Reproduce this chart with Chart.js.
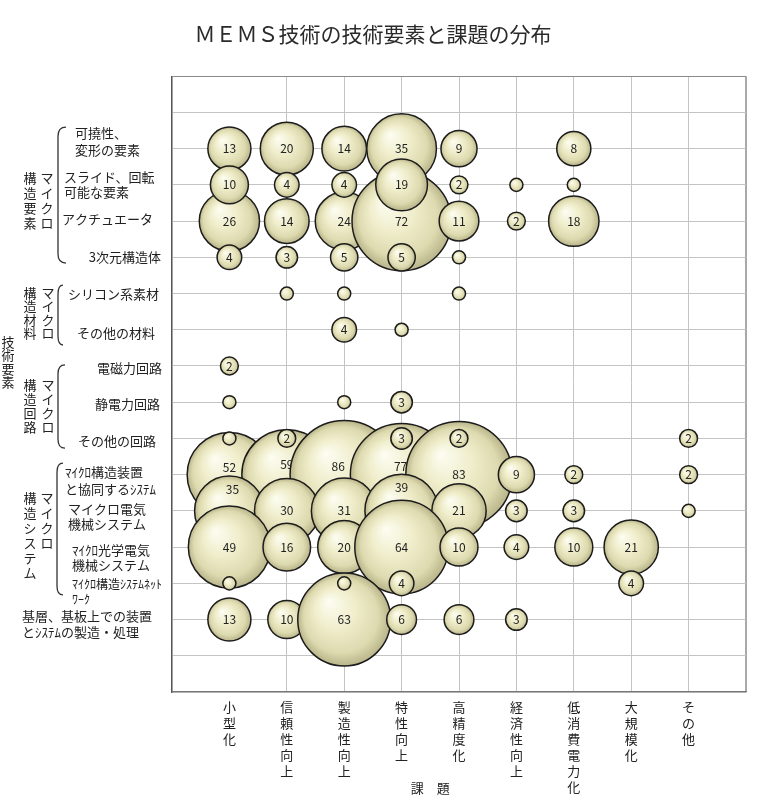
<!DOCTYPE html>
<html>
<head>
<meta charset="utf-8">
<script src="https://cdn.jsdelivr.net/npm/chart.js@4.4.1/dist/chart.umd.min.js"></script>
<style>
  body { margin: 0; background: #fff; }
  #wrap { width: 757px; height: 805px; }
</style>
</head>
<body>
<div id="wrap"><canvas id="bubbleChart"></canvas></div>
<script>
// columns (課題)
const challenges = ['小型化', '信頼性向上', '製造性向上', '特性向上', '高精度化', '経済性向上', '低消費電力化', '大規模化', 'その他'];

// rows (技術要素), '\n' = line break
const techElements = [
    '可撓性、\n変形の要素', 'スライド、回転\n可能な要素', 'アクチュエータ', '3次元構造体',
    'シリコン系素材', 'その他の材料',
    '電磁力回路', '静電力回路', 'その他の回路',
    'ﾏｲｸﾛ構造装置\nと協同するｼｽﾃﾑ', 'マイクロ電気\n機械システム', 'ﾏｲｸﾛ光学電気\n機械システム', 'ﾏｲｸﾛ構造ｼｽﾃﾑﾈｯﾄ\nﾜｰｸ',
    '基層、基板上での装置\nとｼｽﾃﾑの製造・処理'
];

// counts per row, one value per challenge (0 = no bubble)
const flexibleParts      = [13, 20, 14, 35,  9, 0,  8,  0, 0];
const slidingParts       = [10,  4,  4, 19,  2, 1,  1,  0, 0];
const actuators          = [26, 14, 24, 72, 11, 2, 18,  0, 0];
const structures3d       = [ 4,  3,  5,  5,  1, 0,  0,  0, 0];
const siliconMaterials   = [ 0,  1,  1,  0,  1, 0,  0,  0, 0];
const otherMaterials     = [ 0,  0,  4,  1,  0, 0,  0,  0, 0];
const magneticCircuits   = [ 2,  0,  0,  0,  0, 0,  0,  0, 0];
const electrostaticCirc  = [ 1,  0,  1,  3,  0, 0,  0,  0, 0];
const otherCircuits      = [ 1,  2,  0,  3,  2, 0,  0,  0, 2];
const coopSystems        = [52, 59, 86, 77, 83, 9,  2,  0, 2];
const memsSystems        = [35, 30, 31, 39, 21, 3,  3,  0, 1];
const moemsSystems       = [49, 16, 20, 64, 10, 4, 10, 21, 0];
const systemNetworks     = [ 1,  0,  1,  4,  0, 0,  0,  4, 0];
const substrateProcess   = [13, 10, 63,  6,  6, 3,  0,  0, 0];

const rows = [flexibleParts, slidingParts, actuators, structures3d, siliconMaterials, otherMaterials,
    magneticCircuits, electrostaticCirc, otherCircuits, coopSystems, memsSystems, moemsSystems,
    systemNetworks, substrateProcess];

const FONT = "'Noto Sans CJK JP', 'Noto Sans', sans-serif";

// the order rows get painted in (later = on top)
const rowDrawOrder = [0, 2, 1, 3, 4, 5, 6, 7, 9, 8, 10, 11, 13, 12];

// labels that sit off-centre because a neighbour covers the middle  ("row,col": [dx, dy])
const labelShift = {
    '10,1': [0, -7], '10,2': [0, -10], '10,3': [-6, -8], '10,4': [-1, -8],
    '11,1': [3, -21], '11,4': [0, -23]
};

// one dataset per bubble so each label is painted right after its own bubble
const datasets = [];
rowDrawOrder.forEach(ri => {
    rows[ri].forEach((v, ci) => {
        if (v > 0) datasets.push({ data: [{ x: ci + 1, y: ri + 1, v: v }] });
    });
});
datasets.forEach((d, i) => { d.order = datasets.length - i; });

// bubbles never touch the frame here, so don't let Chart.js shrink the plot for them
Chart.BubbleController.prototype.getMaxOverflow = function() { return 0; };

function bubbleRadius(v) {
    return 5.75 * Math.sqrt(v) + 0.8;
}

function bubbleFill(ctx) {
    const chart = ctx.chart;
    const raw = ctx.raw;
    if (!raw || !chart.scales.x || !chart.chartArea) return '#ecead0';
    const cx = chart.scales.x.getPixelForValue(raw.x);
    const cy = chart.scales.y.getPixelForValue(raw.y);
    const r = bubbleRadius(raw.v);
    const g = chart.ctx.createRadialGradient(cx - r * 0.35, cy - r * 0.4, 0, cx, cy, r);
    g.addColorStop(0, '#fdfdf3');
    g.addColorStop(0.45, '#efedca');
    g.addColorStop(0.8, '#dddab0');
    g.addColorStop(1, '#b9b489');
    return g;
}

// row label layout on the left
const rowLabelLayout = [
    { x: 75, align: 'left', dy: -7, gap: 17 },
    { x: 64, align: 'left', dy: 0, gap: 15 },
    { x: 62, align: 'left', dy: -2 },
    { x: 161, align: 'right', dy: 0 },
    { x: 68, align: 'left', dy: 1 },
    { x: 77, align: 'left', dy: 3 },
    { x: 162, align: 'right', dy: 2 },
    { x: 160, align: 'right', dy: 2 },
    { x: 78, align: 'left', dy: 3 },
    { x: 65, align: 'left', dy: 6, gap: 17 },
    { x: 68, align: 'left', dy: 6, gap: 15 },
    { x: 72, align: 'left', dy: 10, gap: 15 },
    { x: 72, align: 'left', dy: 9, gap: 15, size: 12 },
    { x: 22, align: 'left', dy: 5, gap: 16 }
];

// vertical group captions (start given in row units)
const groupCaptions = [
    { text: '構造要素', x: 30, from: 1.815, step: 15 },
    { text: 'マイクロ', x: 47, from: 1.815, step: 15 },
    { text: '構造材料', x: 30, from: 4.99, step: 13.3 },
    { text: 'マイクロ', x: 48, from: 4.99, step: 13.3 },
    { text: '技術要素', x: 8, from: 6.34, step: 13.3 },
    { text: '構造回路', x: 30, from: 7.53, step: 14 },
    { text: 'マイクロ', x: 48, from: 7.53, step: 14 },
    { text: '構造システム', x: 30, from: 10.645, step: 15 },
    { text: 'マイクロ', x: 47, from: 10.645, step: 15 }
];

const brackets = [
    { x: 58, w: 8, top: 0.407, bottom: 4.16 },
    { x: 58, w: 5, top: 4.77, bottom: 6.42 },
    { x: 58, w: 7, top: 6.97, bottom: 9.27 },
    { x: 57, w: 6, top: 9.68, bottom: 13.32 }
];

const bubbleLabels = {
    id: 'bubbleLabels',
    afterDatasetDraw(chart, args) {
        const point = chart.data.datasets[args.index].data[0];
        if (point.v < 2) return;
        const el = args.meta.data[0];
        const shift = labelShift[point.y + ',' + point.x] || [0, 0];
        const ctx = chart.ctx;
        ctx.save();
        ctx.font = '12px ' + FONT;
        ctx.fillStyle = '#222';
        ctx.textAlign = 'center';
        ctx.textBaseline = 'middle';
        ctx.fillText(String(point.v), el.x + shift[0], el.y + shift[1]);
        ctx.restore();
    }
};

const sideLabels = {
    id: 'sideLabels',
    afterDraw(chart) {
        const ctx = chart.ctx;
        const ys = chart.scales.y;
        const xs = chart.scales.x;
        ctx.save();
        ctx.fillStyle = '#222';
        ctx.textBaseline = 'middle';

        techElements.forEach((label, i) => {
            const lay = rowLabelLayout[i];
            const lines = label.split('\n');
            const gap = lay.gap || 16;
            const yc = ys.getPixelForValue(i + 1) + lay.dy;
            ctx.font = (lay.size || 13) + 'px ' + FONT;
            ctx.textAlign = lay.align;
            lines.forEach((line, k) => {
                ctx.fillText(line, lay.x, yc - (lines.length - 1) * gap / 2 + k * gap);
            });
        });

        ctx.font = '13px ' + FONT;
        ctx.textAlign = 'center';
        groupCaptions.forEach(g => {
            const y0 = ys.getPixelForValue(g.from);
            [...g.text].forEach((ch, k) => ctx.fillText(ch, g.x, y0 + k * g.step));
        });

        ctx.strokeStyle = '#333';
        ctx.lineWidth = 1.3;
        brackets.forEach(b => {
            const top = ys.getPixelForValue(b.top);
            const bot = ys.getPixelForValue(b.bottom);
            ctx.beginPath();
            ctx.moveTo(b.x + b.w, top);
            ctx.quadraticCurveTo(b.x, top, b.x, top + 9);
            ctx.lineTo(b.x, bot - 9);
            ctx.quadraticCurveTo(b.x, bot, b.x + b.w, bot);
            ctx.stroke();
        });

        // x axis caption
        ctx.font = '13px ' + FONT;
        ctx.fillText('課　題', xs.getPixelForValue(4.5), chart.chartArea.bottom + 96);
        ctx.restore();
    }
};

const ctx = document.getElementById('bubbleChart').getContext('2d');
const bubbleChart = new Chart(ctx, {
    type: 'bubble',
    data: { datasets: datasets },
    options: {
        responsive: true,
        maintainAspectRatio: false,
        animation: false,
        events: [],
        layout: { padding: { left: 0, right: 11, top: 0, bottom: 0 } },
        elements: {
            point: {
                radius: c => c.raw ? bubbleRadius(c.raw.v) : 3,
                backgroundColor: bubbleFill,
                borderColor: '#1c1c1c',
                borderWidth: 1.5
            }
        },
        plugins: {
            legend: { display: false },
            tooltip: { enabled: false },
            title: {
                display: true,
                text: 'ＭＥＭＳ技術の技術要素と課題の分布',
                color: '#2a2a2a',
                font: { size: 21, weight: 'normal', family: FONT },
                padding: { top: 21, bottom: 30 }
            }
        },
        scales: {
            x: {
                type: 'linear',
                min: 0,
                max: 10,
                afterFit: s => { s.height = 113; },
                grid: {
                    drawTicks: false,
                    color: c => c.tick.value === 1 ? 'rgba(0,0,0,0)' : (c.tick.value === 10 ? '#a9a9a9' : '#c4c4c4'),
                    lineWidth: c => c.tick.value === 10 ? 2 : 1
                },
                border: { color: '#777', width: 1.2 },
                ticks: {
                    stepSize: 1,
                    maxTicksLimit: 20,
                    autoSkip: false,
                    maxRotation: 0,
                    padding: 7,
                    color: '#222',
                    font: { size: 13, family: FONT, lineHeight: 16 / 13 },
                    callback: v => (v >= 1 && v <= 9) ? [...challenges[v - 1]] : ''
                }
            },
            y: {
                type: 'linear',
                reverse: true,
                min: -1,
                max: 16,
                afterFit: s => { s.width = 172; },
                grid: {
                    drawTicks: false,
                    color: c => c.tick.value === -1 ? '#8a8a8a' : '#c4c4c4'
                },
                border: { color: '#555', width: 1.3 },
                ticks: { display: false, stepSize: 1, maxTicksLimit: 30 }
            }
        }
    },
    plugins: [bubbleLabels, sideLabels]
});
</script>
</body>
</html>
